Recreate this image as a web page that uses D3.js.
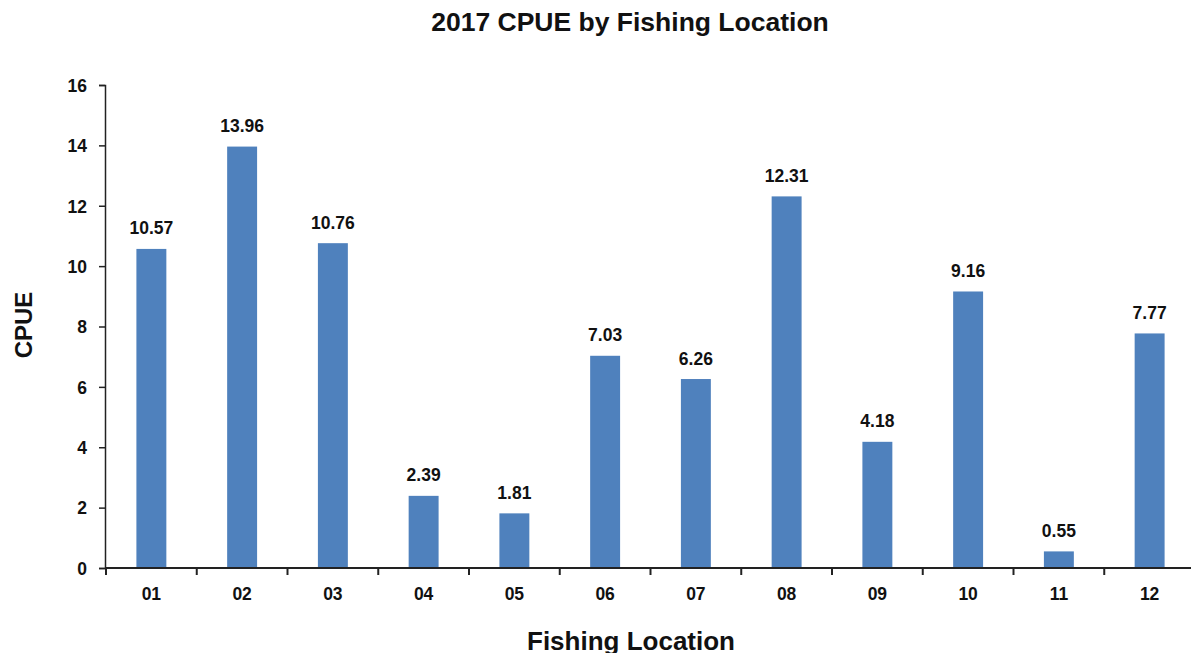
<!DOCTYPE html>
<html>
<head>
<meta charset="utf-8">
<script src="https://cdn.jsdelivr.net/npm/d3@7"></script>
<style>
  body { margin: 0; background: #fff; }
  svg text { font-family: "Liberation Sans", Arial, sans-serif; font-weight: bold; fill: #111; }
</style>
</head>
<body>
<div id="chart"></div>
<script>
var locations = ['01','02','03','04','05','06','07','08','09','10','11','12'];
var cpue = [10.57, 13.96, 10.76, 2.39, 1.81, 7.03, 6.26, 12.31, 4.18, 9.16, 0.55, 7.77];
var yTicks = [0, 2, 4, 6, 8, 10, 12, 14, 16];

var width = 1191, height = 653;

var svg = d3.select('#chart').append('svg')
  .attr('width', width)
  .attr('height', height);

var x = d3.scaleBand()
  .domain(locations)
  .range([106, 1195])
  .paddingInner(0.67)
  .paddingOuter(0.335);

var y = d3.scaleLinear()
  .domain([0, 16])
  .range([568, 85]);

// bars
svg.append('g').selectAll('rect')
  .data(locations)
  .enter().append('rect')
    .attr('x', function(d) { return x(d); })
    .attr('y', function(d, i) { return y(cpue[i]); })
    .attr('width', x.bandwidth())
    .attr('height', function(d, i) { return y(0) - y(cpue[i]); })
    .attr('fill', '#4f81bd');

// value labels
svg.append('g').selectAll('text')
  .data(locations)
  .enter().append('text')
    .attr('x', function(d) { return x(d) + x.bandwidth() / 2; })
    .attr('y', function(d, i) { return y(cpue[i]) - 14.5; })
    .attr('text-anchor', 'middle')
    .style('font-size', '17.5px')
    .text(function(d, i) { return cpue[i].toFixed(2); });

// y axis
var yAxis = svg.append('g')
  .attr('transform', 'translate(105,0)')
  .call(d3.axisLeft(y).tickValues(yTicks).tickSize(6).tickPadding(12));
yAxis.select('.domain').attr('stroke', '#222').attr('stroke-width', 1.5);
yAxis.selectAll('.tick line').attr('stroke', '#222').attr('stroke-width', 1.5);
yAxis.selectAll('.tick text')
  .style('font-size', '17.5px')
  .attr('fill', '#111')
  .attr('dy', '0.36em');

// x axis: labels at band centres, ticks at band edges
var xAxis = svg.append('g')
  .attr('transform', 'translate(0,568)')
  .call(d3.axisBottom(x).tickSize(0).tickPadding(20));
xAxis.select('.domain').remove();
xAxis.selectAll('.tick text').style('font-size', '17.5px').attr('fill', '#111');

svg.append('line')
  .attr('x1', 105).attr('x2', width)
  .attr('y1', 568).attr('y2', 568)
  .attr('stroke', '#222').attr('stroke-width', 2);

svg.append('g').selectAll('line')
  .data(locations)
  .enter().append('line')
    .attr('x1', function(d) { return x(d) - x.step() * x.paddingInner() / 2; })
    .attr('x2', function(d) { return x(d) - x.step() * x.paddingInner() / 2; })
    .attr('y1', 568).attr('y2', 575)
    .attr('stroke', '#222').attr('stroke-width', 2);

// titles
svg.append('text')
  .attr('x', 630).attr('y', 30.5)
  .attr('text-anchor', 'middle')
  .style('font-size', '26.5px')
  .text('2017 CPUE by Fishing Location');

svg.append('text')
  .attr('x', 631).attr('y', 650)
  .attr('text-anchor', 'middle')
  .style('font-size', '26px')
  .text('Fishing Location');

svg.append('text')
  .attr('transform', 'translate(32,325) rotate(-90)')
  .attr('text-anchor', 'middle')
  .style('font-size', '24px')
  .text('CPUE');
</script>
</body>
</html>
